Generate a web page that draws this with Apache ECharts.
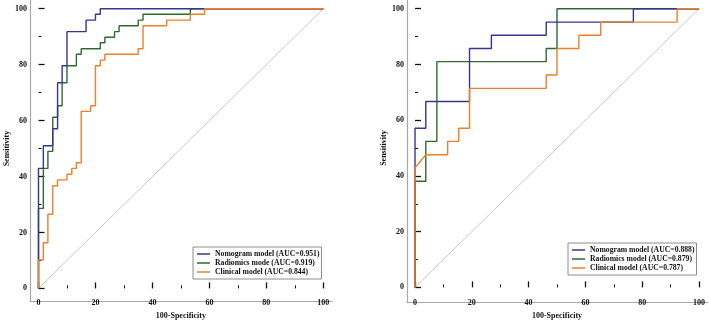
<!DOCTYPE html>
<html>
<head>
<meta charset="utf-8">
<script src="https://cdn.jsdelivr.net/npm/echarts@6/dist/echarts.min.js"></script>
<style>
  html, body { margin: 0; padding: 0; background: #fff; }
  #chart { width: 709px; height: 325px; }
</style>
</head>
<body>
<div id="chart"></div>
<script>
// ROC points [100-Specificity, Sensitivity]
var leftNomogram = [[0,0],[0,42.9],[1.7,42.9],[1.7,51.0],[5.0,51.0],[5.0,57.1],[6.7,57.1],[6.7,73.5],[8.3,73.5],[8.3,79.6],[10,79.6],[10,91.8],[16.7,91.8],[16.7,95.9],[20,95.9],[20,98.0],[21.7,98.0],[21.7,100],[100,100]];
var leftRadiomics = [[0,0],[0,28.6],[1.7,28.6],[1.7,42.9],[3.3,42.9],[3.3,49.0],[5.0,49.0],[5.0,61.2],[6.7,61.2],[6.7,65.3],[8.3,65.3],[8.3,73.5],[10,73.5],[10,79.6],[13.3,79.6],[13.3,83.7],[15,83.7],[15,85.7],[21.7,85.7],[21.7,87.8],[23.3,87.8],[23.3,89.8],[26.7,89.8],[26.7,91.8],[28.3,91.8],[28.3,93.9],[35,93.9],[35,95.9],[36.7,95.9],[36.7,98.0],[53.3,98.0],[53.3,100],[100,100]];
var leftClinical = [[0,0],[0,10.2],[1.7,10.2],[1.7,16.3],[3.3,16.3],[3.3,26.5],[5.0,26.5],[5.0,36.7],[6.7,36.7],[6.7,38.8],[10,38.8],[10,40.8],[11.7,40.8],[11.7,42.9],[13.3,42.9],[13.3,44.9],[15,44.9],[15,63.3],[18.3,63.3],[18.3,65.3],[20,65.3],[20,79.6],[21.7,79.6],[21.7,81.6],[23.3,81.6],[23.3,83.7],[35,83.7],[35,85.7],[36.7,85.7],[36.7,93.9],[45,93.9],[45,95.9],[53.3,95.9],[53.3,98.0],[58.3,98.0],[58.3,100],[100,100]];

var rightNomogram = [[0,0],[0,57.1],[3.8,57.1],[3.8,66.7],[19.2,66.7],[19.2,85.7],[26.9,85.7],[26.9,90.5],[46.2,90.5],[46.2,95.2],[76.9,95.2],[76.9,100],[100,100]];
var rightRadiomics = [[0,0],[0,38.1],[3.8,38.1],[3.8,52.4],[7.7,52.4],[7.7,81.0],[46.2,81.0],[46.2,85.7],[50,85.7],[50,100],[100,100]];
var rightClinical = [[0,0],[0,42.9],[3.8,47.6],[11.5,47.6],[11.5,52.4],[15.4,52.4],[15.4,57.1],[19.2,57.1],[19.2,71.4],[46.2,71.4],[46.2,76.2],[50,76.2],[50,85.7],[57.7,85.7],[57.7,90.5],[65.4,90.5],[65.4,95.2],[92.3,95.2],[92.3,100],[100,100]];

var chanceLine = [[0,0],[100,100]];

var leftNames = ['Nomogram model (AUC=0.951)', 'Radiomics mode (AUC=0.919)', 'Clinical model (AUC=0.844)'];
var rightNames = ['Nomogram model (AUC=0.888)', 'Radiomics model (AUC=0.879)', 'Clinical model (AUC=0.787)'];
var colors = ['#38358f', '#2e6a30', '#ee7f2d'];

var font = 'Liberation Serif';

var chart = echarts.init(document.getElementById('chart'), null, {renderer: 'canvas'});

function frameAxis(idx) {
  return {
    type: 'value', gridIndex: idx, min: 0, max: 1,
    axisLine: {show: true, lineStyle: {color: '#a8a8a8', width: 1.2}},
    axisTick: {show: false}, axisLabel: {show: false}, splitLine: {show: false}
  };
}

function dataAxis(idx, dir, off) {
  var ax = {
    type: 'value', gridIndex: idx, min: 0, max: 100, interval: 20,
    offset: off,
    axisLine: {show: false},
    axisTick: {show: true, inside: true, length: 6, lineStyle: {color: '#111', width: 1.3}},
    minorTick: {show: true, splitNumber: 2, length: 3, lineStyle: {color: '#111', width: 1}},
    axisLabel: {margin: 3, fontFamily: font, fontWeight: 'bold', fontSize: 8, color: '#111'},
    splitLine: {show: false},
    nameLocation: 'middle',
    nameTextStyle: {fontFamily: font, fontWeight: 'bold', fontSize: 8, color: '#111'}
  };
  if (dir === 'x') {
    ax.name = '100-Specificity';
    ax.nameGap = 13;
  } else {
    ax.name = 'Sensitivity';
    ax.nameGap = 19;
  }
  return ax;
}

function curve(name, data, xi, color, z) {
  return {
    name: name, type: 'line', xAxisIndex: xi, yAxisIndex: xi,
    data: data, showSymbol: false, symbol: 'none', z: z,
    lineStyle: {color: color, width: 1.4}, itemStyle: {color: color},
    animation: false
  };
}

function legendFor(names, left, top) {
  return {
    data: names, orient: 'vertical', left: left, top: top,
    selectedMode: false,
    icon: 'rect',
    itemWidth: 13, itemHeight: 1.5, itemGap: 1,
    padding: [3, 2, 3, 4],
    borderColor: '#8c8c8c', borderWidth: 1,
    textStyle: {fontFamily: font, fontWeight: 'bold', fontSize: 7.7, color: '#111', lineHeight: 8}
  };
}

var option = {
  backgroundColor: '#fff',
  animation: false,
  grid: [
    {left: 30, top: 0, width: 302, height: 301},
    {left: 38.5, top: 8.7, width: 284.8, height: 284.6},
    {left: 407, top: 0, width: 301, height: 302},
    {left: 415, top: 8.7, width: 284, height: 284.6}
  ],
  xAxis: [frameAxis(0), dataAxis(1, 'x', 7.7), frameAxis(2), dataAxis(3, 'x', 8.7)],
  yAxis: [frameAxis(0), dataAxis(1, 'y', 8.5), frameAxis(2), dataAxis(3, 'y', 8)],
  legend: [legendFor(leftNames, 193, 247), legendFor(rightNames, 568, 243)],
  series: [
    {type: 'line', xAxisIndex: 1, yAxisIndex: 1, data: chanceLine, symbol: 'none', z: 1,
      lineStyle: {color: '#c8c8c8', width: 1}, silent: true},
    curve(leftNames[1], leftRadiomics, 1, colors[1], 2),
    curve(leftNames[0], leftNomogram, 1, colors[0], 3),
    curve(leftNames[2], leftClinical, 1, colors[2], 4),
    {type: 'line', xAxisIndex: 3, yAxisIndex: 3, data: chanceLine, symbol: 'none', z: 1,
      lineStyle: {color: '#c8c8c8', width: 1}, silent: true},
    curve(rightNames[1], rightRadiomics, 3, colors[1], 2),
    curve(rightNames[0], rightNomogram, 3, colors[0], 3),
    curve(rightNames[2], rightClinical, 3, colors[2], 4)
  ]
};

chart.setOption(option);
</script>
</body>
</html>
